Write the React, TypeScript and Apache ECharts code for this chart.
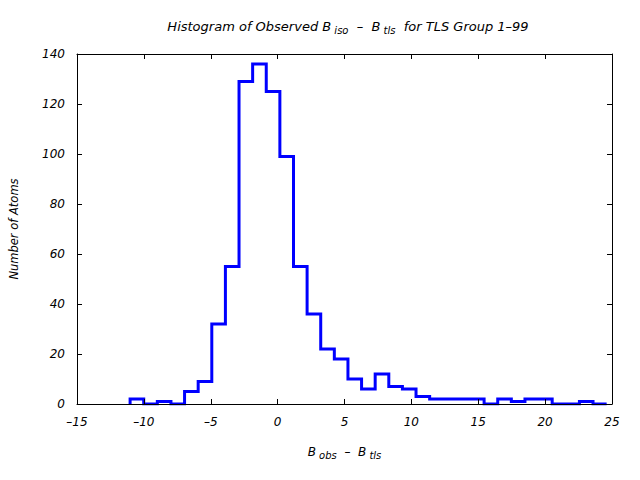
import React, { useEffect, useRef } from "react";
import * as echarts from "echarts";

// Histogram bins: first bin's left edge and bin width (in B units)
const binStart = -11.03;
const binWidth = 1.018;
// Number of atoms in each bin
const counts = [
  2, 0, 1, 0, 5, 9, 32, 55, 129, 136, 125, 99, 55, 36, 22, 18, 10, 6, 12, 7,
  6, 3, 2, 2, 2, 2, 0, 2, 1, 2, 2, 0, 0, 1, 0,
];
const xTicks = [-15, -10, -5, 0, 5, 10, 15, 20, 25];
const yTicks = [0, 20, 40, 60, 80, 100, 120, 140];

const FONT = "DejaVu Sans";
const fmt = (v: number) => (v < 0 ? "\u2013" + Math.abs(v) : String(v));

export default function App() {
  const ref = useRef<HTMLDivElement>(null);
  useEffect(() => {
    if (!ref.current) return;
    const chart = echarts.init(ref.current, null, { renderer: "svg" });
    const pts: number[][] = [];
    counts.forEach((c, i) => {
      const l = binStart + i * binWidth;
      const r = l + binWidth;
      if (i === 0) pts.push([l, 0]);
      pts.push([l, c]);
      pts.push([r, c]);
    });
    pts.push([binStart + counts.length * binWidth, 0]);

    const tickStyle = { show: true, inside: true, length: 5, lineStyle: { color: "#000", width: 1 } };
    const axisLine = { show: true, onZero: false, lineStyle: { color: "#000", width: 1 } };
    const labelStyle = { color: "#000", fontFamily: FONT, fontStyle: "italic" as const, fontSize: 12 };

    chart.setOption({
      animation: false,
      backgroundColor: "#fff",
      grid: { left: 76.5, right: 28, top: 54, bottom: 76, containLabel: false },
      title: {
        text: "Histogram of Observed B{sub| iso}  \u2013  B{sub| tls}  for TLS Group 1\u201399",
        left: 343,
        top: 13,
        textAlign: "center",
        textStyle: {
          fontFamily: FONT,
          fontStyle: "italic",
          fontWeight: "normal",
          fontSize: 13,
          color: "#000",
          rich: {
            sub: { fontFamily: FONT, fontStyle: "italic", fontSize: 10, color: "#000", padding: [7, 0, 0, 0] },
          },
        },
      },
      xAxis: [
        {
          type: "value",
          min: -15,
          max: 25,
          interval: 5,
          position: "bottom",
          z: 5,
          axisLine,
          axisTick: tickStyle,
          axisLabel: { ...labelStyle, margin: 12, formatter: fmt },
          splitLine: { show: false },
          name: "B{sub| obs}  \u2013  B{sub| tls}",
          nameLocation: "middle",
          nameGap: 39,
          nameTextStyle: {
            ...labelStyle,
            rich: { sub: { ...labelStyle, fontSize: 10, padding: [7, 0, 0, 0] } },
          },
        },
        {
          type: "value",
          min: -15,
          max: 25,
          interval: 5,
          position: "top",
          z: 5,
          axisLine,
          axisTick: tickStyle,
          axisLabel: { show: false },
          splitLine: { show: false },
        },
      ],
      yAxis: [
        {
          type: "value",
          min: 0,
          max: 140,
          interval: 20,
          position: "left",
          z: 5,
          axisLine,
          axisTick: tickStyle,
          axisLabel: { ...labelStyle, margin: 12 },
          splitLine: { show: false },
          name: "Number of Atoms",
          nameLocation: "middle",
          nameGap: 57,
          nameTextStyle: { ...labelStyle, fontSize: 11.5 },
        },
        {
          type: "value",
          min: 0,
          max: 140,
          interval: 20,
          position: "right",
          z: 5,
          axisLine,
          axisTick: tickStyle,
          axisLabel: { show: false },
          splitLine: { show: false },
        },
      ],
      series: [
        {
          type: "line",
          data: pts,
          showSymbol: false,
          symbol: "none",
          z: 2,
          lineStyle: { color: "#0000ff", width: 3, join: "miter" },
        },
      ],
    });
    return () => chart.dispose();
  }, []);
  return <div ref={ref} style={{ width: 640, height: 480, position: "absolute", left: 0, top: 0 }} />;
}
